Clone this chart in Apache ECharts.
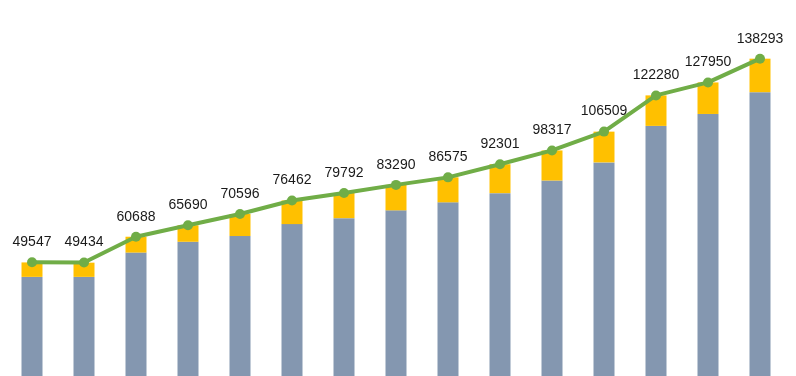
<!DOCTYPE html>
<html lang="en">
<head>
    <meta charset="UTF-8">
    <title>Chart</title>
    <script src="https://cdn.jsdelivr.net/npm/echarts@6/dist/echarts.min.js"></script>
    <style>
        *{
            padding:0;
            margin:0;
        }
        html,body{
            height:100%;
            background:#fff;
        }
        #main{
            width:796px;
            height:376px;
        }
    </style>
</head>
<body>
<div id="main"></div>
<script>
    var categories = ['1','2','3','4','5','6','7','8','9','10','11','12','13','14','15'];
    var grayValues = [43200,43200,53800,58500,61000,66200,68800,72200,75700,79700,85200,93100,109000,114200,123700];
    var yellowValues = [6300,6200,6900,7200,9600,10300,11000,11100,10900,12600,13100,13400,13300,13750,14600];
    var totals = [49547,49434,60688,65690,70596,76462,79792,83290,86575,92301,98317,106509,122280,127950,138293];

    var myChart = echarts.init(document.getElementById('main'));
    var option = {
        animation: false,
        grid: {left: 6, right: 10, top: 2, bottom: -3},
        xAxis: {
            type: 'category',
            data: categories,
            show: false
        },
        yAxis: {
            type: 'value',
            min: 0,
            max: 163000,
            show: false
        },
        series: [
            {
                type: 'bar',
                stack: 'total',
                barWidth: 21,
                itemStyle: {color: '#8497b0'},
                data: grayValues
            },
            {
                type: 'bar',
                stack: 'total',
                barWidth: 21,
                itemStyle: {color: '#ffc000'},
                data: yellowValues
            },
            {
                type: 'line',
                data: totals,
                symbol: 'circle',
                symbolSize: 10,
                lineStyle: {color: '#70ad47', width: 4},
                itemStyle: {color: '#70ad47'},
                label: {
                    show: true,
                    position: 'top',
                    distance: 8,
                    color: '#1a1a1a',
                    fontSize: 14,
                    fontFamily: 'Liberation Sans, Arial, sans-serif'
                }
            }
        ]
    };
    myChart.setOption(option);
</script>
</body>
</html>
